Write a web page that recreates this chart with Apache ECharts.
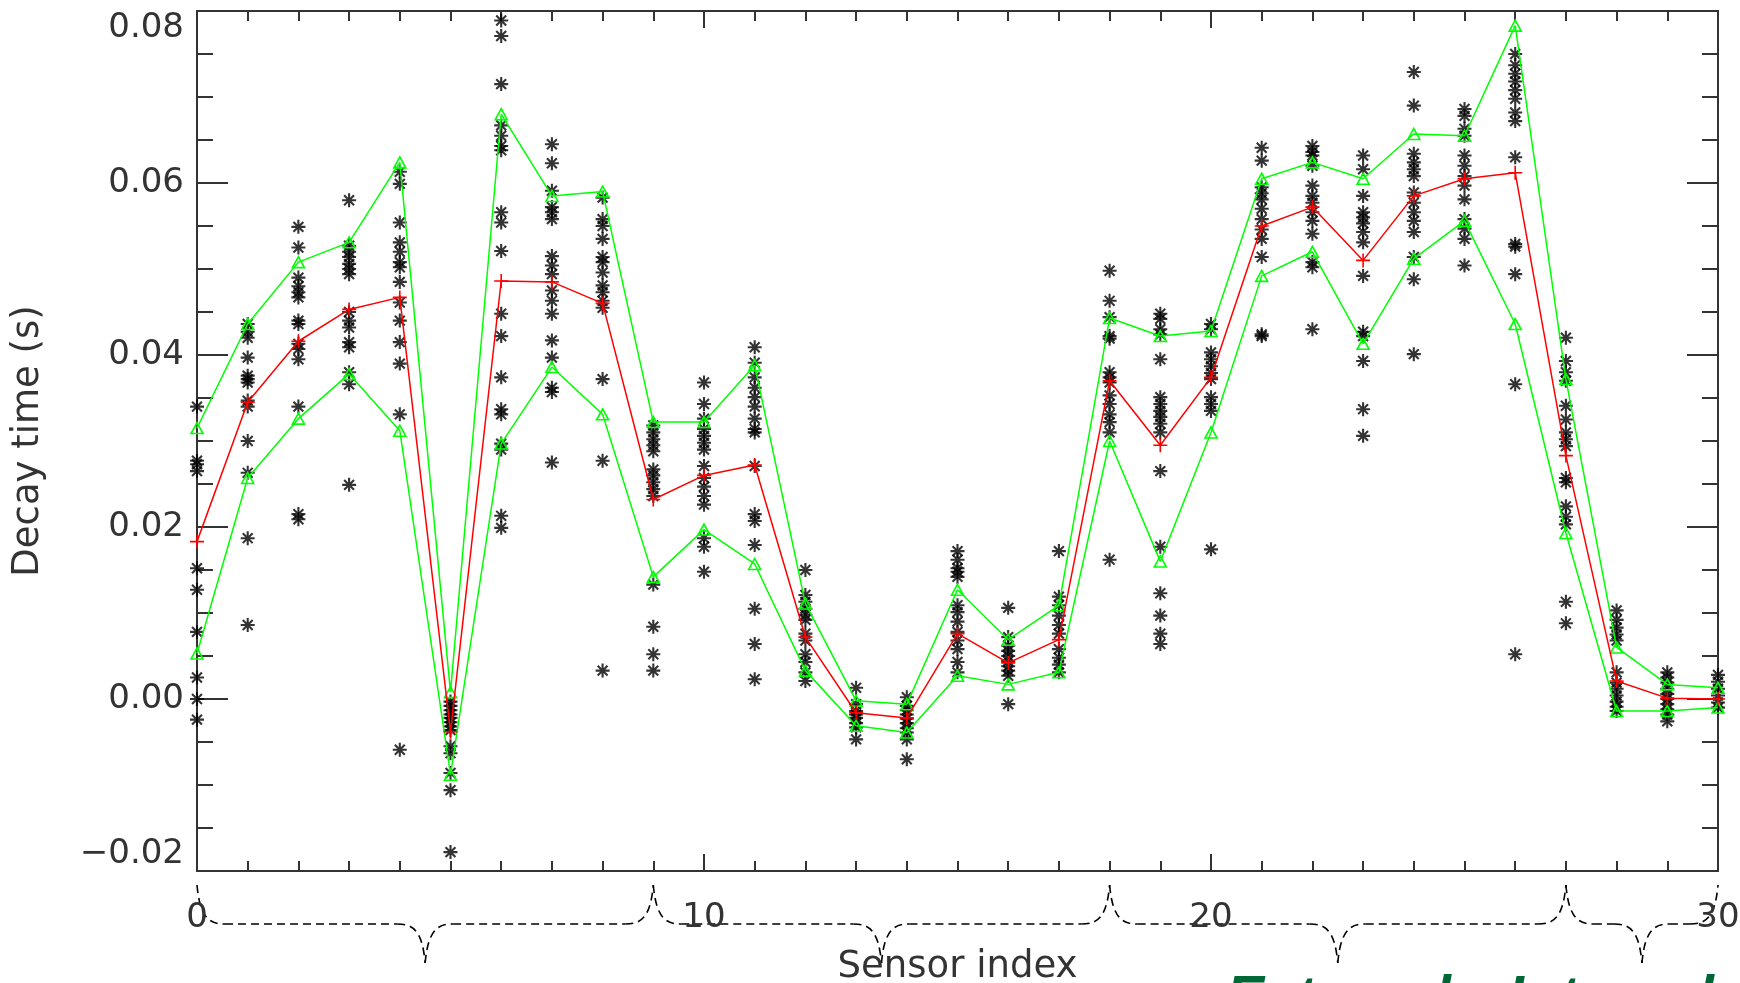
<!DOCTYPE html>
<html>
<head>
<meta charset="utf-8">
<script src="https://cdn.jsdelivr.net/npm/echarts@6/dist/echarts.min.js"></script>
<style>
html,body{margin:0;padding:0;background:#fff;}
#chart{width:1740px;height:983px;}
</style>
</head>
<body>
<div id="chart"></div>
<script>
// ---- data ----
var sensorIndex = [0,1,2,3,4,5,6,7,8,9,10,11,12,13,14,15,16,17,18,19,20,21,22,23,24,25,26,27,28,29,30];

var meanValues = [0.0183,0.0345,0.0416,0.0453,0.0467,-0.0038,0.0486,0.0485,0.046,0.0232,0.026,0.0272,0.0072,-0.0016,-0.0022,0.0076,0.0042,0.0069,0.037,0.0295,0.0374,0.055,0.0572,0.051,0.0585,0.0605,0.0612,0.0283,0.0021,0.0001,0.0];

var upperValues = [0.0315,0.0436,0.0508,0.0531,0.0624,0.0008,0.068,0.0585,0.059,0.0322,0.0322,0.0388,0.0111,-0.0002,-0.0006,0.0127,0.0069,0.0109,0.0443,0.0422,0.0428,0.0605,0.0624,0.0605,0.0657,0.0655,0.0783,0.0372,0.006,0.0017,0.0013];

var lowerValues = [0.0053,0.0257,0.0326,0.0378,0.0312,-0.0088,0.0297,0.0386,0.0331,0.0142,0.0197,0.0157,0.0033,-0.0031,-0.0039,0.0027,0.0017,0.0031,0.030,0.016,0.031,0.0492,0.052,0.0413,0.0512,0.0556,0.0436,0.0193,-0.0014,-0.0014,-0.001];

// individual measurements per sensor (index = sensor)
var sensorSamples = [
  [0.034,0.0277,0.0273,0.0265,0.0152,0.0127,0.0078,0.0025,0.0,-0.0024],
  [0.0436,0.0427,0.042,0.0397,0.0376,0.0372,0.0368,0.0347,0.034,0.030,0.0263,0.0187,0.0086],
  [0.0549,0.0525,0.049,0.048,0.0473,0.0467,0.044,0.0436,0.0413,0.0407,0.0395,0.034,0.0215,0.0209],
  [0.058,0.0527,0.052,0.0514,0.0506,0.05,0.0494,0.045,0.044,0.0432,0.0415,0.0409,0.038,0.0366,0.0249],
  [0.0613,0.0599,0.0554,0.0531,0.052,0.0508,0.0502,0.0485,0.0461,0.044,0.0415,0.039,0.0331,-0.0059],
  [-0.0003,-0.0008,-0.0013,-0.0018,-0.0022,-0.0027,-0.0032,-0.0036,-0.0055,-0.0063,-0.0086,-0.0106,-0.0178],
  [0.0789,0.0771,0.0715,0.0667,0.0655,0.0643,0.0638,0.0566,0.0554,0.0521,0.0448,0.0422,0.0374,0.0337,0.0331,0.0297,0.029,0.0213,0.0199],
  [0.0645,0.0623,0.0591,0.0572,0.0566,0.0558,0.0515,0.0504,0.0494,0.0475,0.0463,0.0448,0.0417,0.0397,0.0362,0.0357,0.0275],
  [0.0583,0.0558,0.055,0.0535,0.0514,0.0508,0.0496,0.0481,0.0473,0.0463,0.0455,0.0372,0.0277,0.0033],
  [0.0318,0.031,0.0302,0.0295,0.0288,0.0267,0.026,0.0252,0.0244,0.0236,0.0133,0.0084,0.0052,0.0033],
  [0.0368,0.0343,0.0326,0.0314,0.0306,0.0298,0.029,0.0271,0.0257,0.0247,0.0236,0.0226,0.0187,0.0177,0.0148],
  [0.0409,0.0391,0.0374,0.0362,0.0351,0.034,0.0326,0.0314,0.031,0.0271,0.0215,0.0207,0.0179,0.0105,0.0064,0.0023],
  [0.015,0.0121,0.0113,0.0105,0.0098,0.0092,0.0076,0.0068,0.0052,0.0043,0.0031,0.0021],
  [0.0013,-0.0006,-0.0014,-0.0018,-0.0022,-0.0028,-0.0033,-0.0047],
  [0.0002,-0.0008,-0.0013,-0.0018,-0.0023,-0.0028,-0.0034,-0.0039,-0.0047,-0.007],
  [0.0172,0.0162,0.0152,0.0148,0.0142,0.0109,0.0101,0.009,0.0078,0.0068,0.0058,0.0043,0.0031],
  [0.0106,0.0072,0.0062,0.0056,0.005,0.0044,0.0038,0.0033,0.0027,-0.0006],
  [0.0172,0.0119,0.0109,0.0097,0.0086,0.0076,0.0058,0.0048,0.004,0.0031],
  [0.0498,0.0463,0.0444,0.0422,0.0419,0.038,0.0374,0.0368,0.0353,0.0343,0.0331,0.0322,0.031,0.0162],
  [0.0448,0.0442,0.043,0.0424,0.0395,0.0351,0.0343,0.0335,0.0328,0.032,0.031,0.0265,0.0177,0.0123,0.0097,0.0076,0.0064],
  [0.0436,0.043,0.0403,0.0395,0.0387,0.0379,0.0372,0.0351,0.0343,0.0335,0.0174],
  [0.0641,0.0626,0.0595,0.0588,0.0581,0.057,0.0558,0.0546,0.0535,0.0514,0.0424,0.0422],
  [0.0643,0.0636,0.0632,0.062,0.0597,0.0585,0.0577,0.0566,0.0556,0.0541,0.0508,0.0502,0.043],
  [0.0632,0.0616,0.0585,0.0566,0.056,0.0553,0.0543,0.0531,0.0492,0.0427,0.0422,0.0393,0.0337,0.0306],
  [0.0729,0.069,0.0634,0.0624,0.0616,0.0608,0.0589,0.0577,0.0566,0.0556,0.0543,0.0514,0.0488,0.0401],
  [0.0686,0.0678,0.0663,0.0655,0.0632,0.062,0.0608,0.0597,0.0581,0.0558,0.0547,0.0535,0.0504],
  [0.075,0.0737,0.0727,0.0718,0.0708,0.0698,0.0682,0.0672,0.063,0.0529,0.0526,0.0494,0.0366,0.0052],
  [0.042,0.0393,0.038,0.037,0.0341,0.0325,0.031,0.0302,0.0294,0.0257,0.0252,0.0224,0.0212,0.0203,0.0113,0.0088],
  [0.0103,0.0092,0.0083,0.0075,0.0068,0.0031,0.0019,0.0012,0.0004,-0.0003,-0.0009,-0.0014],
  [0.0031,0.0025,0.0019,0.0012,0.0006,0.0,-0.0006,-0.0012,-0.0018,-0.0026],
  [0.0028,0.002,0.0012,0.0004,-0.0004,-0.001]
];

var xTickLabels = ['0','10','20','30'];
var sensorGroups = [[0,9],[9,18],[18,27],[27,30]];
var xAxisTitle = 'Sensor index';
var yAxisTitle = 'Decay time (s)';
var footerWords = ['External', 'Internal'];

// ---- build series data ----
function pairs(vals){ return sensorIndex.map(function(x,i){ return [x, vals[i]]; }); }
var scatterData = [];
sensorSamples.forEach(function(list, i){
  list.forEach(function(v){ scatterData.push([sensorIndex[i], v]); });
});

var ASTERISK = 'path://M0,6L12,6M6,0L6,12M1.76,1.76L10.24,10.24M10.24,1.76L1.76,10.24';
var PLUS = 'path://M0,6L12,6M6,0L6,12';
var AX = '#333';
var FONT = 'DejaVu Sans, sans-serif';

var chart = echarts.init(document.getElementById('chart'), null, {renderer:'canvas'});

var option = {
  animation: false,
  backgroundColor: '#fff',
  grid: {left:197, right:22, top:11, bottom:112, containLabel:false, outerBoundsMode:'none'},
  xAxis: [{
    type:'value', min:0, max:30, interval:10, position:'bottom',
    name: xAxisTitle, nameLocation:'middle', nameGap:78,
    nameTextStyle:{fontFamily:FONT, fontSize:37, color:AX},
    axisLine:{show:true, onZero:false, lineStyle:{color:AX, width:2}},
    axisTick:{show:true, inside:true, length:17, lineStyle:{color:AX, width:2}},
    minorTick:{show:true, splitNumber:10, length:10, lineStyle:{color:AX, width:2}},
    splitLine:{show:false},
    axisLabel:{show:true, margin:30, fontFamily:FONT, fontSize:34, color:AX,
      formatter:function(v){ return xTickLabels[Math.round(v/10)] || ''; }}
  },{
    type:'value', min:0, max:30, interval:10, position:'top',
    axisLine:{show:true, onZero:false, lineStyle:{color:AX, width:2}},
    axisTick:{show:true, inside:true, length:17, lineStyle:{color:AX, width:2}},
    minorTick:{show:true, splitNumber:10, length:10, lineStyle:{color:AX, width:2}},
    splitLine:{show:false}, axisLabel:{show:false}
  }],
  yAxis: [{
    type:'value', min:-0.02, max:0.08, interval:0.02, position:'left',
    name: yAxisTitle, nameLocation:'middle', nameRotate:90, nameGap:150,
    nameTextStyle:{fontFamily:FONT, fontSize:37, color:AX},
    axisLine:{show:true, onZero:false, lineStyle:{color:AX, width:2}},
    axisTick:{show:true, inside:true, length:31, lineStyle:{color:AX, width:2}},
    minorTick:{show:true, splitNumber:4, length:16, lineStyle:{color:AX, width:2}},
    splitLine:{show:false},
    axisLabel:{show:true, margin:13, fontFamily:FONT, fontSize:34, color:AX,
      verticalAlignMaxLabel:'top', verticalAlignMinLabel:'bottom',
      formatter:function(v){
        var s = Math.abs(v) < 1e-9 ? '0.00' : v.toFixed(2);
        return s.replace('-', '\u2212');
      }}
  },{
    type:'value', min:-0.02, max:0.08, interval:0.02, position:'right',
    axisLine:{show:true, onZero:false, lineStyle:{color:AX, width:2}},
    axisTick:{show:true, inside:true, length:31, lineStyle:{color:AX, width:2}},
    minorTick:{show:true, splitNumber:4, length:16, lineStyle:{color:AX, width:2}},
    splitLine:{show:false}, axisLabel:{show:false}
  }],
  series: [
    {
      type:'scatter', name:'samples', data:scatterData, z:2,
      symbol:ASTERISK, symbolSize:14,
      itemStyle:{color:'rgba(0,0,0,0)', borderColor:'#000', borderWidth:2.1},
      emphasis:{disabled:true}, silent:true
    },
    {
      type:'line', name:'upper', data:pairs(upperValues), z:3,
      symbol:'triangle', symbolSize:[12,11],
      lineStyle:{color:'#00ff00', width:1.5},
      itemStyle:{color:'rgba(0,0,0,0)', borderColor:'#00ff00', borderWidth:1.6},
      emphasis:{disabled:true}, silent:true
    },
    {
      type:'line', name:'lower', data:pairs(lowerValues), z:3,
      symbol:'triangle', symbolSize:[12,11],
      lineStyle:{color:'#00ff00', width:1.5},
      itemStyle:{color:'rgba(0,0,0,0)', borderColor:'#00ff00', borderWidth:1.6},
      emphasis:{disabled:true}, silent:true
    },
    {
      type:'line', name:'mean', data:pairs(meanValues), z:4,
      symbol:PLUS, symbolSize:14,
      lineStyle:{color:'#ff0000', width:1.5},
      itemStyle:{color:'rgba(0,0,0,0)', borderColor:'#ff0000', borderWidth:1.6},
      emphasis:{disabled:true}, silent:true
    }
  ]
};
chart.setOption(option);

// ---- dashed grouping braces under the x axis, placed through the axis scale ----
function buildBraces(){
  var els = [];
  var y0 = chart.convertToPixel({yAxisIndex:0}, -0.02);
  var yTop = y0 + 14, yMid = y0 + 53, yBot = y0 + 92;
  var w = 28;
  var style = {stroke:'#000', lineWidth:1.6, lineDash:[8,5], fill:null};
  sensorGroups.forEach(function(g){
    var pa = chart.convertToPixel({xAxisIndex:0}, g[0]);
    var pb = chart.convertToPixel({xAxisIndex:0}, g[1]);
    var pm = (pa + pb) / 2;
    els.push({type:'bezierCurve', silent:true, shape:{x1:pa, y1:yTop, cpx1:pa+3, cpy1:yMid-4, cpx2:pa+w*0.5, cpy2:yMid, x2:pa+w, y2:yMid}, style:style});
    els.push({type:'line', silent:true, shape:{x1:pa+w, y1:yMid, x2:pm-w, y2:yMid}, style:style});
    els.push({type:'bezierCurve', silent:true, shape:{x1:pm-w, y1:yMid, cpx1:pm-w*0.5, cpy1:yMid, cpx2:pm-3, cpy2:yMid+4, x2:pm, y2:yBot}, style:style});
    els.push({type:'bezierCurve', silent:true, shape:{x1:pm, y1:yBot, cpx1:pm+3, cpy1:yMid+4, cpx2:pm+w*0.5, cpy2:yMid, x2:pm+w, y2:yMid}, style:style});
    els.push({type:'line', silent:true, shape:{x1:pm+w, y1:yMid, x2:pb-w, y2:yMid}, style:style});
    els.push({type:'bezierCurve', silent:true, shape:{x1:pb-w, y1:yMid, cpx1:pb-w*0.5, cpy1:yMid, cpx2:pb-3, cpy2:yMid-4, x2:pb, y2:yTop}, style:style});
  });
  var footFont = 'italic bold 57px "Liberation Sans", Arial, sans-serif';
  els.push({type:'text', silent:true, left:1226, top:972, style:{text:footerWords[0], fill:'#006837', font:footFont}});
  els.push({type:'text', silent:true, left:1508, top:972, style:{text:footerWords[1], fill:'#006837', font:footFont}});
  chart.setOption({graphic:{elements:els}});
}
buildBraces();
</script>
</body>
</html>
